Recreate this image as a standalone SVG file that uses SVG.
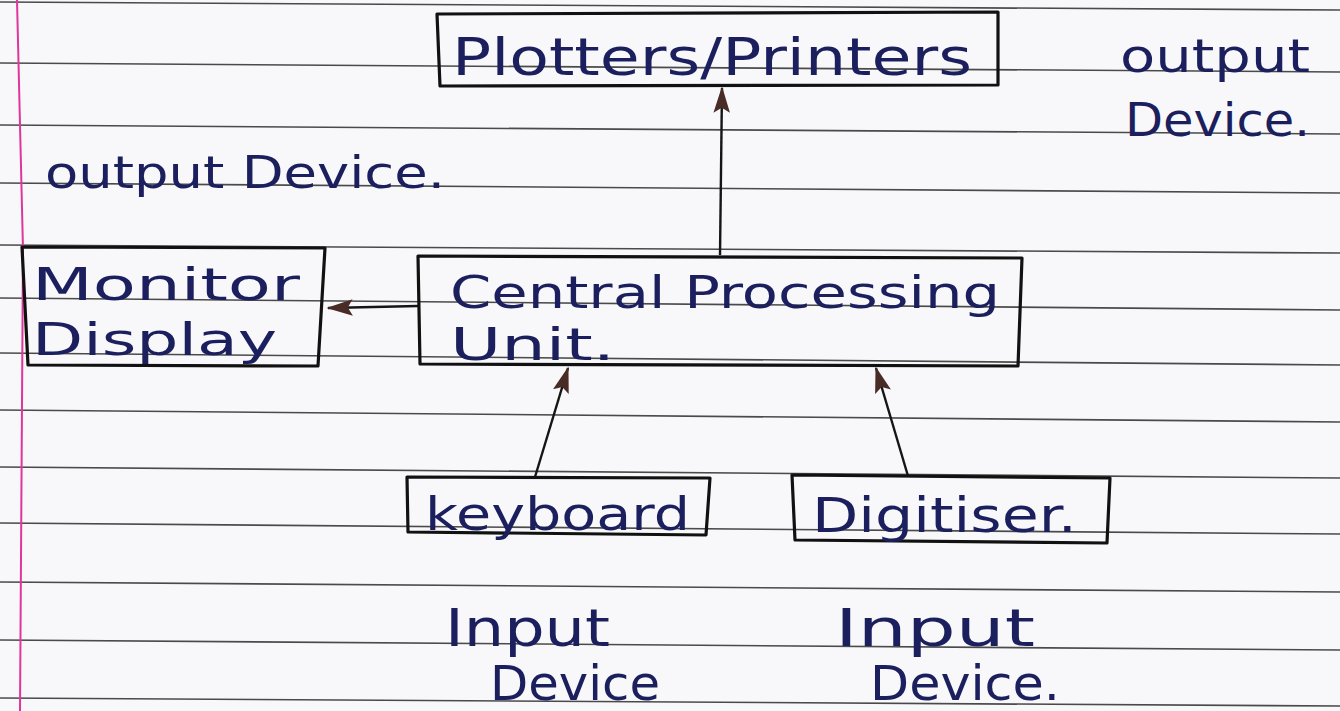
<svg xmlns="http://www.w3.org/2000/svg" width="1340" height="711" viewBox="0 0 1340 711">
<style>
.rule{stroke:#4a4a4a;stroke-width:1.6;fill:none}
.box{stroke:#111;stroke-width:3.2;fill:none;stroke-linejoin:round}
.conn{stroke:#151515;stroke-width:2.4;fill:none}
.hand{font-family:"DejaVu Sans","Liberation Sans",sans-serif;fill:#1c1f5e;font-weight:normal}
</style>
<defs>
<marker id="ah" viewBox="0 0 16 10" refX="15" refY="5" markerWidth="11" markerHeight="7" markerUnits="strokeWidth" orient="auto">
<path d="M0,0 L16,5 L0,10 L3,5 Z" fill="#4a2c27"/>
</marker>
</defs>
<rect width="1340" height="711" fill="#f8f8fa"/>
<g id="paper">
<path class="rule" d="M0,2 L1340,10"/>
<path class="rule" d="M0,63 L1340,72"/>
<path class="rule" d="M0,125 L1340,134"/>
<path class="rule" d="M0,183 L1340,193"/>
<path class="rule" d="M0,245 L1340,253"/>
<path class="rule" d="M0,298 L1340,310"/>
<path class="rule" d="M0,353 L1340,365"/>
<path class="rule" d="M0,410 L1340,422"/>
<path class="rule" d="M0,467 L1340,478"/>
<path class="rule" d="M0,523 L1340,534"/>
<path class="rule" d="M0,582 L1340,592"/>
<path class="rule" d="M0,640 L1340,650"/>
<path class="rule" d="M0,698 L1340,706"/>
<path d="M17,0 L23,250 L20,711" stroke="#e0359a" stroke-width="2" fill="none"/>
</g>
<g id="connectors">
<path class="conn" d="M720,255 L722,88" marker-end="url(#ah)"/>
<path class="conn" d="M418,306 L328,308" marker-end="url(#ah)"/>
<path class="conn" d="M535,477 L568,368" marker-end="url(#ah)"/>
<path class="conn" d="M908,476 L876,368" marker-end="url(#ah)"/>
</g>
<g id="plotters">
<path class="box" d="M437,14 L998,12 L998,85 L440,86 Z"/>
<text class="hand" x="452" y="75" font-size="52" textLength="520" lengthAdjust="spacingAndGlyphs">Plotters/Printers</text>
</g>
<g id="label-output-right">
<text class="hand" x="1120" y="72" font-size="46" textLength="190" lengthAdjust="spacingAndGlyphs">output</text>
<text class="hand" x="1125" y="136" font-size="46" textLength="185" lengthAdjust="spacingAndGlyphs">Device.</text>
</g>
<g id="label-output-left">
<text class="hand" x="45" y="188" font-size="44" textLength="400" lengthAdjust="spacingAndGlyphs">output Device.</text>
</g>
<g id="monitor">
<path class="box" d="M22,247 L325,248 L318,366 L28,365 Z"/>
<text class="hand" x="32" y="300" font-size="44" textLength="268" lengthAdjust="spacingAndGlyphs">Monitor</text>
<text class="hand" x="32" y="355" font-size="44" textLength="245" lengthAdjust="spacingAndGlyphs">Display</text>
</g>
<g id="cpu">
<path class="box" d="M418,256 L1022,258 L1018,366 L420,364 Z"/>
<text class="hand" x="450" y="308" font-size="44" textLength="550" lengthAdjust="spacingAndGlyphs">Central Processing</text>
<text class="hand" x="450" y="360" font-size="44" textLength="165" lengthAdjust="spacingAndGlyphs">Unit.</text>
</g>
<g id="keyboard">
<path class="box" d="M407,477 L710,478 L706,535 L408,532 Z"/>
<text class="hand" x="425" y="530" font-size="46" textLength="265" lengthAdjust="spacingAndGlyphs">keyboard</text>
</g>
<g id="digitiser">
<path class="box" d="M792,475 L1110,478 L1107,543 L795,540 Z"/>
<text class="hand" x="812" y="532" font-size="48" textLength="265" lengthAdjust="spacingAndGlyphs">Digitiser.</text>
</g>
<g id="label-input-left">
<text class="hand" x="445" y="646" font-size="52" textLength="165" lengthAdjust="spacingAndGlyphs">Input</text>
<text class="hand" x="490" y="700" font-size="48" textLength="170" lengthAdjust="spacingAndGlyphs">Device</text>
</g>
<g id="label-input-right">
<text class="hand" x="835" y="646" font-size="52" textLength="200" lengthAdjust="spacingAndGlyphs">Input</text>
<text class="hand" x="870" y="700" font-size="48" textLength="190" lengthAdjust="spacingAndGlyphs">Device.</text>
</g>
</svg>
